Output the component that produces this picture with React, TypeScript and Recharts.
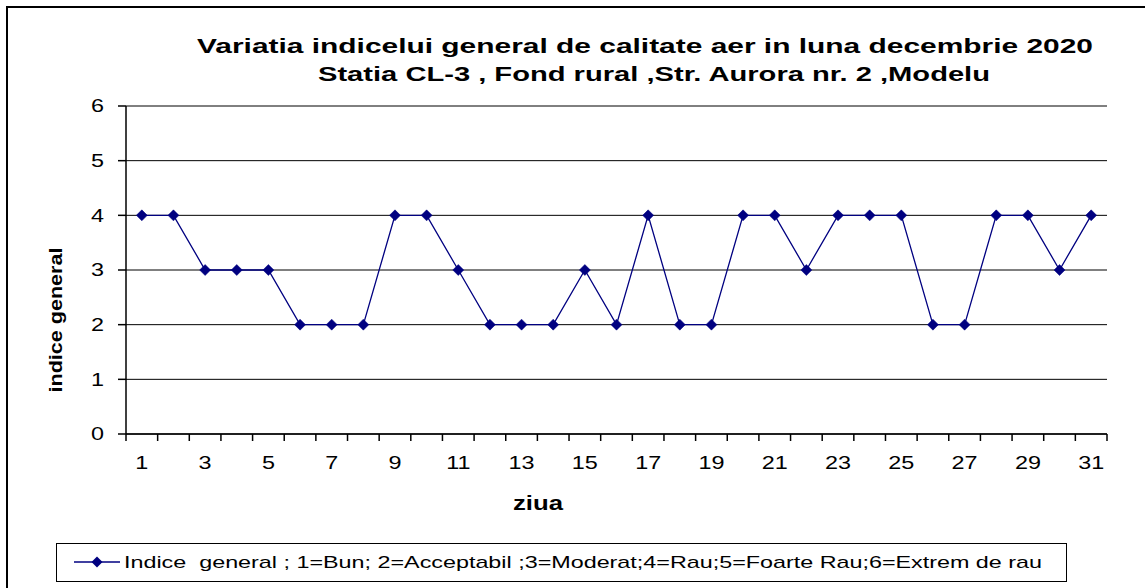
import React from 'react';
import { LineChart, Line, XAxis, YAxis, CartesianGrid, Legend } from 'recharts';

const days = [1, 2, 3, 4, 5, 6, 7, 8, 9, 10, 11, 12, 13, 14, 15, 16, 17, 18, 19, 20, 21, 22, 23, 24, 25, 26, 27, 28, 29, 30, 31];
const indice = [4, 4, 3, 3, 3, 2, 2, 2, 4, 4, 3, 2, 2, 2, 3, 2, 4, 2, 2, 4, 4, 3, 4, 4, 4, 2, 2, 4, 4, 3, 4];
const yTicks = [0, 1, 2, 3, 4, 5, 6];
const xLabelTicks = [1, 3, 5, 7, 9, 11, 13, 15, 17, 19, 21, 23, 25, 27, 29, 31];
const xBoundaryTicks = [...days.map((d) => d - 0.5), days[days.length - 1] + 0.5];

const titleLine1 = 'Variatia indicelui general de calitate aer in luna decembrie 2020';
const titleLine2 = 'Statia CL-3 , Fond rural ,Str. Aurora nr. 2 ,Modelu';
const yLabel = 'indice general';
const xLabel = 'ziua';
const legendText = 'Indice  general ; 1=Bun; 2=Acceptabil ;3=Moderat;4=Rau;5=Foarte Rau;6=Extrem de rau';

const data = days.map((d, i) => ({ day: d, v: indice[i] }));

const NAVY = '#000080';
const FONT = 'Liberation Sans, Arial, sans-serif';
const STRETCH = 1.3;

const Diamond = (props: any) => {
  const { cx, cy } = props;
  if (cx == null || cy == null) return null;
  const r = 5.5;
  return (
    <path
      d={`M${cx},${cy - r}L${cx + r},${cy}L${cx},${cy + r}L${cx - r},${cy}Z`}
      fill={NAVY}
      stroke={NAVY}
      strokeWidth={0.5}
    />
  );
};

const XTick = (props: any) => {
  const { x, y, payload } = props;
  return (
    <text
      transform={`translate(${x},${y}) scale(${STRETCH},1)`}
      textAnchor="middle"
      dy="0.71em"
      fontFamily={FONT}
      fontSize={18}
      fill="#000"
    >
      {payload.value}
    </text>
  );
};

const YTick = (props: any) => {
  const { x, y, payload } = props;
  return (
    <text
      transform={`translate(${x},${y}) scale(${STRETCH},1)`}
      textAnchor="end"
      dy="0.355em"
      fontFamily={FONT}
      fontSize={18}
      fill="#000"
    >
      {payload.value}
    </text>
  );
};

const LegendContent = () => (
  <div
    style={{
      width: 1011,
      height: 39,
      border: '1.5px solid #000',
      boxSizing: 'border-box',
      background: '#fff',
      position: 'relative',
    }}
  >
    <svg width={1008} height={36} style={{ position: 'absolute', left: 0, top: 0 }}>
      <line x1={17} y1={18} x2={63} y2={18} stroke={NAVY} strokeWidth={1.3} />
      <path d="M40,12.5L45.5,18L40,23.5L34.5,18Z" fill={NAVY} />
      <text
        x={67}
        y={24}
        fontFamily={FONT}
        fontSize={17}
        fill="#000"
        textLength={918}
        lengthAdjust="spacingAndGlyphs"
        style={{ whiteSpace: 'pre' }}
      >
        {legendText}
      </text>
    </svg>
  </div>
);

export default function App() {
  return (
    <div style={{ position: 'absolute', left: 0, top: 0, width: 1145, height: 588, background: '#fff', overflow: 'hidden' }}>
      <div
        style={{
          position: 'absolute',
          left: 6,
          top: 6,
          width: 1160,
          height: 600,
          border: '2px solid #000',
          boxSizing: 'border-box',
        }}
      />
      <svg width={1145} height={100} style={{ position: 'absolute', left: 0, top: 0 }}>
        <text
          x={645}
          y={53}
          textAnchor="middle"
          fontFamily={FONT}
          fontWeight="bold"
          fontSize={21}
          fill="#000"
          textLength={896}
          lengthAdjust="spacingAndGlyphs"
        >
          {titleLine1}
        </text>
        <text
          x={654}
          y={81}
          textAnchor="middle"
          fontFamily={FONT}
          fontWeight="bold"
          fontSize={21}
          fill="#000"
          textLength={672}
          lengthAdjust="spacingAndGlyphs"
        >
          {titleLine2}
        </text>
      </svg>
      <div style={{ position: 'absolute', left: 0, top: 0 }}>
        <LineChart
          width={1145}
          height={588}
          data={data}
          margin={{ top: 106, right: 38, bottom: 116, left: 0 }}
          style={{ fontFamily: FONT }}
        >
          <CartesianGrid xAxisId={0} vertical={false} stroke="#000" strokeWidth={1} />
          <XAxis
            xAxisId={0}
            type="number"
            dataKey="day"
            domain={[0.5, 31.5]}
            ticks={xBoundaryTicks}
            tickFormatter={() => ''}
            tickSize={7}
            height={8}
            interval={0}
            axisLine={{ stroke: '#000', strokeWidth: 1.5 }}
            tickLine={{ stroke: '#000', strokeWidth: 1.5 }}
          />
          <XAxis
            xAxisId={1}
            type="number"
            dataKey="day"
            domain={[0.5, 31.5]}
            ticks={xLabelTicks}
            interval={0}
            axisLine={false}
            tickLine={false}
            height={30}
            tickSize={6}
            tickMargin={8}
            tick={<XTick />}
          />
          <YAxis
            type="number"
            domain={[0, 6]}
            ticks={yTicks}
            interval={0}
            width={126}
            tickSize={8}
            tickMargin={14}
            tick={<YTick />}
            axisLine={{ stroke: '#000', strokeWidth: 1.5 }}
            tickLine={{ stroke: '#000', strokeWidth: 1.5 }}
          />
          <Legend
            layout="horizontal"
            verticalAlign="middle"
            align="center"
            wrapperStyle={{ left: 56, top: 543, width: 1011, height: 39 }}
            content={LegendContent}
          />
          <Line
            xAxisId={0}
            type="linear"
            dataKey="v"
            name={legendText}
            stroke={NAVY}
            strokeWidth={1.3}
            dot={<Diamond />}
            activeDot={false}
            isAnimationActive={false}
          />
        </LineChart>
      </div>
      <svg width={1145} height={588} style={{ position: 'absolute', left: 0, top: 0, pointerEvents: 'none' }}>
        <text
          transform="translate(62,320) rotate(-90)"
          textAnchor="middle"
          fontFamily={FONT}
          fontWeight="bold"
          fontSize={19}
          fill="#000"
          textLength={145}
          lengthAdjust="spacingAndGlyphs"
        >
          {yLabel}
        </text>
        <text
          x={538}
          y={510}
          textAnchor="middle"
          fontFamily={FONT}
          fontWeight="bold"
          fontSize={20}
          fill="#000"
          textLength={50}
          lengthAdjust="spacingAndGlyphs"
        >
          {xLabel}
        </text>
      </svg>
    </div>
  );
}
